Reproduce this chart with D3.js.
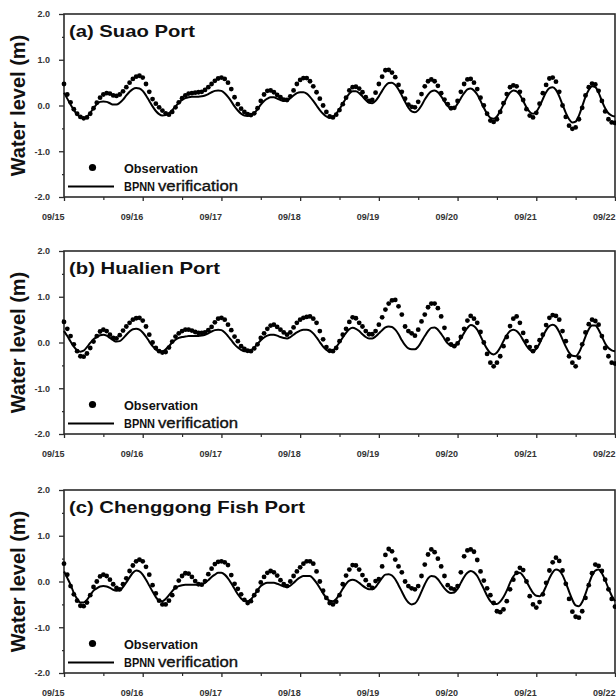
<!DOCTYPE html>
<html lang="en">
<head>
<meta charset="utf-8">
<title>Water level: observation vs BPNN verification</title>
<script src="https://d3js.org/d3.v7.min.js"></script>
<style>
  body { margin: 0; background: #fff; }
  svg text { font-family: "Liberation Sans", Arial, sans-serif; }
</style>
</head>
<body>
<script>
// hourly values, 09/15 00:00 .. 09/22 00:00 (169 points each)
var dateLabels = ["09/15", "09/16", "09/17", "09/18", "09/19", "09/20", "09/21", "09/22"];
var yTicks = [2, 1, 0, -1, -2];
var titles = ["(a) Suao Port", "(b) Hualien Port", "(c) Chenggong Fish Port"];

var suaoObs = [
  0.47, 0.24, 0.07, -0.08, -0.18, -0.25, -0.28, -0.26, -0.18, -0.06, 0.06, 0.17,
  0.24, 0.27, 0.26, 0.22, 0.21, 0.24, 0.31, 0.40, 0.50, 0.58, 0.63, 0.65,
  0.61, 0.47, 0.30, 0.14, 0.04, -0.04, -0.11, -0.17, -0.20, -0.14, -0.04, 0.07,
  0.16, 0.22, 0.26, 0.27, 0.28, 0.29, 0.30, 0.34, 0.40, 0.47, 0.54, 0.59,
  0.61, 0.58, 0.50, 0.36, 0.18, 0.03, -0.07, -0.14, -0.19, -0.21, -0.17, -0.06,
  0.10, 0.24, 0.32, 0.33, 0.29, 0.23, 0.18, 0.13, 0.12, 0.20, 0.33, 0.47,
  0.56, 0.60, 0.60, 0.53, 0.42, 0.29, 0.15, 0.00, -0.14, -0.24, -0.26, -0.20,
  -0.10, 0.03, 0.17, 0.33, 0.40, 0.41, 0.37, 0.29, 0.18, 0.10, 0.12, 0.28,
  0.47, 0.63, 0.77, 0.78, 0.72, 0.62, 0.45, 0.30, 0.15, 0.02, -0.03, -0.04,
  0.08, 0.25, 0.42, 0.53, 0.57, 0.53, 0.43, 0.27, 0.13, 0.03, -0.06, -0.05,
  0.10, 0.30, 0.47, 0.57, 0.58, 0.50, 0.36, 0.17, 0.00, -0.18, -0.33, -0.36,
  -0.30, -0.14, 0.05, 0.25, 0.40, 0.44, 0.42, 0.30, 0.12, -0.08, -0.22, -0.26,
  -0.16, 0.04, 0.27, 0.45, 0.59, 0.61, 0.52, 0.30, 0.00, -0.25, -0.44, -0.51,
  -0.48, -0.30, -0.05, 0.22, 0.40, 0.48, 0.46, 0.32, 0.10, -0.13, -0.30, -0.37,
  -0.38
];
var suaoBpnn = [
  0.28, 0.15, 0.02, -0.10, -0.19, -0.25, -0.27, -0.24, -0.16, -0.06, 0.03, 0.08,
  0.09, 0.08, 0.05, 0.02, 0.02, 0.06, 0.13, 0.22, 0.30, 0.36, 0.38, 0.37,
  0.32, 0.22, 0.10, -0.02, -0.12, -0.19, -0.22, -0.21, -0.17, -0.10, -0.02, 0.06,
  0.12, 0.16, 0.18, 0.19, 0.19, 0.19, 0.20, 0.22, 0.25, 0.29, 0.32, 0.33,
  0.32, 0.27, 0.19, 0.09, -0.02, -0.11, -0.18, -0.22, -0.23, -0.22, -0.17, -0.08,
  0.02, 0.10, 0.15, 0.18, 0.18, 0.15, 0.12, 0.10, 0.11, 0.16, 0.22, 0.27,
  0.29, 0.29, 0.26, 0.19, 0.10, 0.00, -0.10, -0.18, -0.24, -0.27, -0.25, -0.18,
  -0.08, 0.04, 0.16, 0.26, 0.31, 0.31, 0.27, 0.20, 0.12, 0.06, 0.05, 0.10,
  0.20, 0.32, 0.43, 0.49, 0.50, 0.45, 0.35, 0.22, 0.08, -0.05, -0.13, -0.15,
  -0.10, 0.00, 0.13, 0.24, 0.31, 0.33, 0.29, 0.20, 0.09, -0.01, -0.06, -0.05,
  0.04, 0.16, 0.27, 0.35, 0.37, 0.33, 0.24, 0.10, -0.05, -0.18, -0.27, -0.29,
  -0.24, -0.12, 0.02, 0.17, 0.28, 0.33, 0.31, 0.23, 0.10, -0.04, -0.14, -0.18,
  -0.14, -0.02, 0.14, 0.29, 0.38, 0.40, 0.34, 0.20, 0.02, -0.16, -0.30, -0.37,
  -0.35, -0.22, -0.02, 0.19, 0.34, 0.42, 0.40, 0.28, 0.10, -0.06, -0.17, -0.22,
  -0.24
];

var hualienObs = [
  0.45, 0.30, 0.14, -0.04, -0.19, -0.30, -0.31, -0.24, -0.12, 0.02, 0.14, 0.24,
  0.28, 0.25, 0.17, 0.10, 0.09, 0.16, 0.26, 0.35, 0.43, 0.50, 0.53, 0.54,
  0.48, 0.35, 0.17, 0.00, -0.12, -0.19, -0.22, -0.21, -0.11, 0.02, 0.13, 0.20,
  0.25, 0.28, 0.28, 0.26, 0.23, 0.21, 0.21, 0.22, 0.27, 0.34, 0.44, 0.52,
  0.54, 0.50, 0.39, 0.27, 0.13, 0.03, -0.08, -0.14, -0.18, -0.19, -0.13, -0.04,
  0.10, 0.20, 0.30, 0.37, 0.39, 0.34, 0.28, 0.22, 0.17, 0.22, 0.33, 0.43,
  0.50, 0.54, 0.56, 0.57, 0.52, 0.43, 0.25, 0.07, -0.10, -0.18, -0.19, -0.12,
  0.03, 0.17, 0.30, 0.45, 0.55, 0.53, 0.43, 0.35, 0.25, 0.18, 0.18, 0.25,
  0.39, 0.55, 0.72, 0.85, 0.92, 0.93, 0.79, 0.61, 0.35, 0.25, 0.20, 0.15,
  0.28, 0.46, 0.61, 0.77, 0.85, 0.85, 0.75, 0.57, 0.32, 0.07, -0.04, -0.08,
  -0.02, 0.12, 0.30, 0.48, 0.58, 0.52, 0.43, 0.23, 0.00, -0.25, -0.44, -0.52,
  -0.44, -0.30, -0.08, 0.12, 0.36, 0.52, 0.57, 0.43, 0.21, 0.03, -0.10, -0.19,
  -0.10, 0.05, 0.17, 0.38, 0.54, 0.60, 0.58, 0.50, 0.25, 0.03, -0.30, -0.44,
  -0.52, -0.33, -0.04, 0.22, 0.40, 0.50, 0.47, 0.39, 0.14, -0.12, -0.30, -0.44,
  -0.46
];
var hualienBpnn = [
  0.25, 0.14, 0.02, -0.09, -0.17, -0.20, -0.18, -0.10, -0.01, 0.07, 0.12, 0.16,
  0.17, 0.15, 0.10, 0.05, 0.02, 0.03, 0.09, 0.17, 0.24, 0.29, 0.30, 0.28,
  0.22, 0.13, 0.02, -0.08, -0.15, -0.19, -0.19, -0.15, -0.08, 0.00, 0.06, 0.10,
  0.12, 0.13, 0.14, 0.14, 0.14, 0.14, 0.15, 0.17, 0.20, 0.24, 0.27, 0.28,
  0.27, 0.22, 0.14, 0.05, -0.04, -0.11, -0.16, -0.19, -0.19, -0.17, -0.11, -0.03,
  0.05, 0.11, 0.15, 0.17, 0.17, 0.15, 0.12, 0.10, 0.09, 0.12, 0.17, 0.22,
  0.26, 0.28, 0.28, 0.26, 0.20, 0.11, 0.01, -0.09, -0.16, -0.19, -0.17, -0.10,
  0.00, 0.11, 0.21, 0.29, 0.32, 0.30, 0.25, 0.18, 0.12, 0.09, 0.09, 0.13,
  0.20, 0.27, 0.33, 0.35, 0.34, 0.28, 0.18, 0.05, -0.06, -0.13, -0.15, -0.15,
  -0.09, 0.02, 0.14, 0.25, 0.32, 0.33, 0.28, 0.19, 0.08, -0.02, -0.07, -0.08,
  -0.02, 0.09, 0.21, 0.32, 0.38, 0.36, 0.28, 0.14, -0.01, -0.14, -0.23, -0.26,
  -0.22, -0.11, 0.03, 0.16, 0.25, 0.28, 0.25, 0.17, 0.05, -0.07, -0.16, -0.19,
  -0.14, -0.02, 0.13, 0.27, 0.36, 0.39, 0.35, 0.23, 0.07, -0.09, -0.22, -0.29,
  -0.30, -0.22, -0.06, 0.13, 0.29, 0.37, 0.37, 0.28, 0.13, -0.02, -0.12, -0.17,
  -0.19
];

var chenggongObs = [
  0.39, 0.15, -0.10, -0.28, -0.42, -0.53, -0.54, -0.46, -0.30, -0.12, 0.00, 0.11,
  0.15, 0.12, 0.04, -0.06, -0.14, -0.17, -0.06, 0.07, 0.23, 0.35, 0.44, 0.48,
  0.44, 0.32, 0.15, -0.08, -0.26, -0.42, -0.50, -0.50, -0.42, -0.30, -0.13, 0.02,
  0.12, 0.18, 0.17, 0.10, 0.01, -0.06, -0.07, 0.01, 0.16, 0.28, 0.38, 0.43,
  0.44, 0.42, 0.36, 0.14, -0.05, -0.16, -0.28, -0.40, -0.47, -0.43, -0.30, -0.20,
  -0.02, 0.10, 0.19, 0.23, 0.20, 0.13, 0.03, -0.06, -0.10, 0.00, 0.12, 0.22,
  0.31, 0.39, 0.44, 0.44, 0.39, 0.22, 0.00, -0.20, -0.36, -0.47, -0.50, -0.44,
  -0.30, -0.06, 0.13, 0.26, 0.36, 0.35, 0.26, 0.14, 0.03, -0.08, -0.14, 0.01,
  0.05, 0.33, 0.58, 0.71, 0.66, 0.48, 0.33, 0.20, 0.00, -0.10, -0.15, -0.17,
  -0.10, 0.12, 0.37, 0.59, 0.70, 0.64, 0.50, 0.33, 0.12, -0.08, -0.15, -0.17,
  -0.10, 0.20, 0.55, 0.68, 0.70, 0.65, 0.47, 0.22, 0.02, -0.15, -0.30, -0.47,
  -0.65, -0.67, -0.61, -0.43, -0.17, 0.04, 0.19, 0.30, 0.25, 0.00, -0.32, -0.50,
  -0.57, -0.45, -0.28, -0.03, 0.24, 0.42, 0.52, 0.45, 0.24, -0.05, -0.38, -0.66,
  -0.77, -0.79, -0.65, -0.36, -0.08, 0.18, 0.37, 0.34, 0.23, 0.04, -0.17, -0.38,
  -0.55
];
var chenggongBpnn = [
  0.22, 0.08, -0.07, -0.25, -0.38, -0.46, -0.46, -0.40, -0.30, -0.20, -0.15, -0.11,
  -0.10, -0.11, -0.14, -0.18, -0.20, -0.19, -0.12, -0.02, 0.09, 0.19, 0.24, 0.22,
  0.15, 0.04, -0.09, -0.22, -0.34, -0.42, -0.43, -0.38, -0.30, -0.21, -0.14, -0.10,
  -0.08, -0.07, -0.07, -0.07, -0.07, -0.07, -0.06, -0.03, 0.03, 0.10, 0.15, 0.19,
  0.19, 0.15, 0.07, -0.04, -0.16, -0.28, -0.37, -0.42, -0.43, -0.39, -0.30, -0.19,
  -0.10, -0.05, -0.03, -0.03, -0.03, -0.05, -0.08, -0.11, -0.12, -0.09, -0.03, 0.04,
  0.09, 0.12, 0.12, 0.12, 0.06, -0.03, -0.14, -0.26, -0.36, -0.42, -0.43, -0.38,
  -0.28, -0.16, -0.05, 0.02, 0.04, 0.02, -0.03, -0.09, -0.14, -0.17, -0.17, -0.12,
  -0.02, 0.08, 0.15, 0.16, 0.13, 0.05, -0.08, -0.22, -0.36, -0.46, -0.50, -0.48,
  -0.38, -0.22, -0.06, 0.07, 0.12, 0.11, 0.05, -0.05, -0.15, -0.22, -0.25, -0.24,
  -0.16, -0.03, 0.10, 0.19, 0.23, 0.20, 0.12, -0.02, -0.16, -0.31, -0.43, -0.49,
  -0.49, -0.44, -0.34, -0.20, -0.03, 0.11, 0.18, 0.19, 0.12, 0.00, -0.13, -0.25,
  -0.31, -0.32, -0.25, -0.10, 0.07, 0.20, 0.26, 0.24, 0.14, -0.03, -0.22, -0.40,
  -0.52, -0.54, -0.45, -0.27, -0.06, 0.13, 0.24, 0.26, 0.18, 0.03, -0.15, -0.31,
  -0.43
];

var obsSeries = [suaoObs, hualienObs, chenggongObs];
var bpnnSeries = [suaoBpnn, hualienBpnn, chenggongBpnn];

// layout
var W = 616, H = 699;
var left = 64, right = 615, ph = 183;
var tops = [14, 251, 490];
var titleWidths = [126, 151, 236];
var ink = "#2b2b2b";

var svg = d3.select("body").append("svg")
  .attr("width", W)
  .attr("height", H);

var x = d3.scaleLinear().domain([0, 168]).range([left, right]);
var dayHours = d3.range(0, 169, 24);
var halfDayHours = d3.range(12, 168, 24);

tops.forEach(function(top, p) {
  var g = svg.append("g");
  var y = d3.scaleLinear().domain([-2, 2]).range([top + ph, top]);

  // frame
  g.append("rect")
    .attr("x", left).attr("y", top)
    .attr("width", right - left).attr("height", ph)
    .attr("fill", "none")
    .attr("stroke", ink)
    .attr("stroke-width", 1.6);

  // x axis, labels sit left of their tick
  var xa = g.append("g")
    .attr("transform", "translate(0," + (top + ph) + ")")
    .call(d3.axisBottom(x)
      .tickValues(dayHours)
      .tickFormat(function(d, i) { return dateLabels[i]; })
      .tickSize(4)
      .tickPadding(13));
  xa.select(".domain").remove();
  xa.selectAll("line").attr("stroke", ink).attr("stroke-width", 1.3);
  xa.selectAll("text")
    .attr("text-anchor", "end")
    .attr("font-size", 9)
    .attr("font-weight", "bold")
    .attr("fill", "#333");

  var xm = g.append("g")
    .attr("transform", "translate(0," + (top + ph) + ")")
    .call(d3.axisBottom(x).tickValues(halfDayHours).tickFormat("").tickSize(3));
  xm.select(".domain").remove();
  xm.selectAll("line").attr("stroke", ink).attr("stroke-width", 1.2);

  // y axis
  var ya = g.append("g")
    .attr("transform", "translate(" + left + ",0)")
    .call(d3.axisLeft(y)
      .tickValues(yTicks)
      .tickFormat(function(d) { return d.toFixed(1); })
      .tickSize(5)
      .tickPadding(9));
  ya.select(".domain").remove();
  ya.selectAll("line").attr("stroke", ink).attr("stroke-width", 1.3);
  ya.selectAll("text")
    .attr("font-size", 9)
    .attr("font-weight", "bold")
    .attr("fill", "#333");

  var ym = g.append("g")
    .attr("transform", "translate(" + left + ",0)")
    .call(d3.axisLeft(y).tickValues([1.5, 0.5, -0.5, -1.5]).tickFormat("").tickSize(2));
  ym.select(".domain").remove();
  ym.selectAll("line").attr("stroke", ink).attr("stroke-width", 1.2);

  // y label
  g.append("text")
    .attr("transform", "translate(25," + (top + ph / 2) + ") rotate(-90)")
    .attr("text-anchor", "middle")
    .attr("font-size", 20)
    .attr("font-weight", "bold")
    .attr("fill", "#111")
    .text("Water level (m)");

  // title
  g.append("text")
    .attr("x", 69).attr("y", top + 23)
    .attr("font-size", 17)
    .attr("font-weight", "bold")
    .attr("fill", "#111")
    .attr("textLength", titleWidths[p])
    .attr("lengthAdjust", "spacingAndGlyphs")
    .text(titles[p]);

  // BPNN line
  var line = d3.line()
    .x(function(d, i) { return x(i); })
    .y(function(d) { return y(d); })
    .curve(d3.curveMonotoneX);

  g.append("path")
    .datum(bpnnSeries[p])
    .attr("d", line)
    .attr("fill", "none")
    .attr("stroke", "#000")
    .attr("stroke-width", 2);

  // observations
  g.append("g").selectAll("circle")
    .data(obsSeries[p])
    .enter()
    .append("circle")
    .attr("cx", function(d, i) { return x(i); })
    .attr("cy", function(d) { return y(d); })
    .attr("r", 2.4)
    .attr("fill", "#000");

  // legend
  var ly = top + 153.5;
  g.append("circle").attr("cx", 92.5).attr("cy", ly).attr("r", 3.6).attr("fill", "#000");
  g.append("text")
    .attr("x", 124).attr("y", ly + 5)
    .attr("font-size", 13).attr("font-weight", "bold").attr("fill", "#111")
    .attr("textLength", 74).attr("lengthAdjust", "spacingAndGlyphs")
    .text("Observation");
  var ly2 = top + 172.5;
  g.append("line")
    .attr("x1", 68).attr("x2", 114)
    .attr("y1", ly2).attr("y2", ly2)
    .attr("stroke", "#000").attr("stroke-width", 2);
  g.append("text")
    .attr("x", 124).attr("y", ly2 + 4.5)
    .attr("font-size", 13).attr("font-weight", "bold").attr("fill", "#111")
    .attr("textLength", 31).attr("lengthAdjust", "spacingAndGlyphs")
    .text("BPNN");
  g.append("text")
    .attr("x", 158).attr("y", ly2 + 4.5)
    .attr("font-size", 14).attr("fill", "#111")
    .attr("stroke", "#111").attr("stroke-width", 0.35)
    .attr("textLength", 80).attr("lengthAdjust", "spacingAndGlyphs")
    .text("verification");
});
</script>
</body>
</html>
